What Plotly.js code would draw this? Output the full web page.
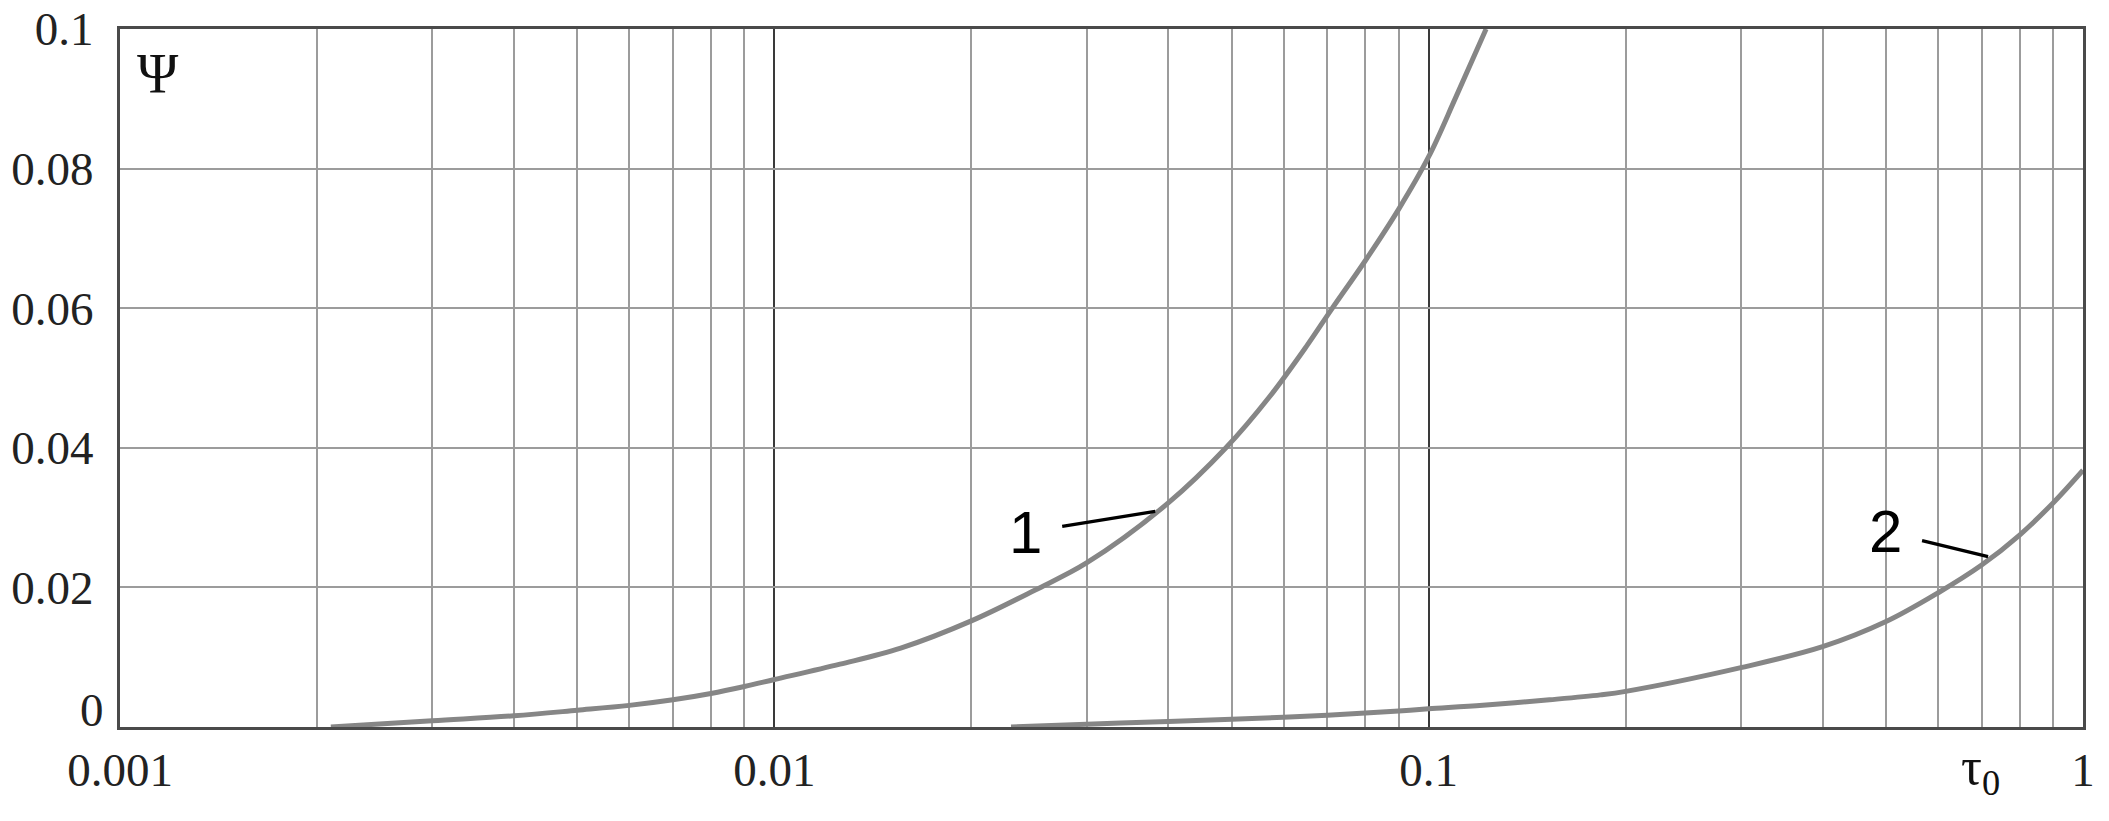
<!DOCTYPE html>
<html>
<head>
<meta charset="utf-8">
<script src="https://cdn.plot.ly/plotly-3.0.1.min.js"></script>
<style>
  html, body { margin: 0; padding: 0; background: #ffffff; }
  #chart { width: 2109px; height: 821px; }
</style>
</head>
<body>
<div id="chart"></div>
<script>
// Curve 1 (tau0, Psi)
var tau1 = [0.0021, 0.003, 0.004, 0.005, 0.006, 0.007, 0.008, 0.009, 0.01, 0.0126, 0.0156, 0.02, 0.025, 0.03, 0.04, 0.049, 0.057, 0.065, 0.071, 0.08, 0.09, 0.1, 0.11, 0.1224];
var psi1 = [0, 0.0009, 0.0016, 0.0024, 0.0031, 0.0039, 0.0048, 0.0058, 0.0068, 0.0090, 0.0113, 0.0152, 0.0196, 0.0235, 0.0321, 0.04, 0.0472, 0.0545, 0.0598, 0.0668, 0.0742, 0.0817, 0.0902, 0.1];

// Curve 2 (tau0, Psi)
var tau2 = [0.023, 0.03, 0.04, 0.05, 0.06, 0.07, 0.08, 0.09, 0.1, 0.121, 0.153, 0.183, 0.2, 0.3, 0.4, 0.5, 0.6, 0.7, 0.8, 0.9, 1.0];
var psi2 = [0, 0.0004, 0.0008, 0.0011, 0.0014, 0.0017, 0.002, 0.0023, 0.0026, 0.0031, 0.0039, 0.0046, 0.0051, 0.0085, 0.0115, 0.0151, 0.0192, 0.0232, 0.0275, 0.0321, 0.0368];

// Axis ticks
var xMajorVals = [0.001, 0.01, 0.1, 1];
var xMajorText = ["0.001", "0.01", "0.1", "1"];
var xMinorVals = [0.002, 0.003, 0.004, 0.005, 0.006, 0.007, 0.008, 0.009,
                  0.02, 0.03, 0.04, 0.05, 0.06, 0.07, 0.08, 0.09,
                  0.2, 0.3, 0.4, 0.5, 0.6, 0.7, 0.8, 0.9];
var yTickVals = [0, 0.02, 0.04, 0.06, 0.08, 0.1];
var yTickText = ["0", "0.02", "0.04", "0.06", "0.08", "0.1"];

// Curve labels
var curveLabels = ["1", "2"];
var labelPointTau = [0.0382, 0.716];
var labelPointPsi = [0.0309, 0.0244];

var serif = "Liberation Serif, Times New Roman, serif";
var sans = "Liberation Sans, Arial, sans-serif";
var tickFont = {family: serif, size: 47, color: "#222"};

var traces = [
  {x: tau1, y: psi1, type: "scatter", mode: "lines", name: "1",
   line: {color: "#868686", width: 5, shape: "spline", smoothing: 1}, hoverinfo: "skip"},
  {x: tau2, y: psi2, type: "scatter", mode: "lines", name: "2",
   line: {color: "#868686", width: 5, shape: "spline", smoothing: 1}, hoverinfo: "skip"}
];

// the "0" label of the y axis sits a little above its gridline in the reference
var yTickTextShown = yTickText.map(function (t, i) { return i === 0 ? "" : t; });

var annots = [
  {xref: "paper", yref: "paper", x: 0, xshift: -14, y: 0.024, text: yTickText[0], showarrow: false,
   xanchor: "right", yanchor: "middle", font: tickFont},
  {xref: "paper", yref: "paper", x: 0.0194, y: 0.935, text: "Ψ", showarrow: false,
   xanchor: "center", yanchor: "middle", font: {family: serif, size: 56, color: "#111"}},
  {xref: "paper", yref: "paper", x: 0.948, y: -0.062, text: "τ<sub>0</sub>", showarrow: false,
   xanchor: "center", yanchor: "middle", font: {family: serif, size: 52, color: "#111"}},
  {xref: "x", yref: "y", x: Math.log10(labelPointTau[0]), y: labelPointPsi[0], text: curveLabels[0],
   showarrow: true, arrowhead: 0, arrowwidth: 3.3, arrowcolor: "#000", ax: -130, ay: 21, standoff: 0,
   borderpad: 20, font: {family: sans, size: 60, color: "#000"}},
  {xref: "x", yref: "y", x: Math.log10(labelPointTau[1]), y: labelPointPsi[1], text: curveLabels[1],
   showarrow: true, arrowhead: 0, arrowwidth: 3.3, arrowcolor: "#000", ax: -103, ay: -25, standoff: 0,
   borderpad: 20, font: {family: sans, size: 60, color: "#000"}}
];

var layout = {
  width: 2109, height: 821,
  margin: {l: 120, r: 26, t: 29, b: 94, pad: 0},
  paper_bgcolor: "#ffffff", plot_bgcolor: "#ffffff",
  showlegend: false,
  xaxis: {
    type: "log", range: [-3, 0],
    tickmode: "array", tickvals: xMajorVals, ticktext: xMajorText,
    ticks: "", ticklabelstandoff: 0,
    showgrid: true, gridcolor: "#3a3a3a", gridwidth: 2,
    minor: {tickmode: "array", tickvals: xMinorVals, showgrid: true, gridcolor: "#9c9c9c", gridwidth: 2, ticks: ""},
    showline: true, mirror: true, linecolor: "#4a4a4a", linewidth: 3,
    zeroline: false,
    tickfont: tickFont
  },
  yaxis: {
    range: [0, 0.1],
    tickmode: "array", tickvals: yTickVals, ticktext: yTickTextShown,
    ticks: "", ticklabelstandoff: 14,
    showgrid: true, gridcolor: "#9c9c9c", gridwidth: 2,
    showline: true, mirror: true, linecolor: "#4a4a4a", linewidth: 3,
    zeroline: false,
    tickfont: tickFont
  },
  annotations: annots
};

Plotly.newPlot("chart", traces, layout, {staticPlot: true, displayModeBar: false});
</script>
</body>
</html>
